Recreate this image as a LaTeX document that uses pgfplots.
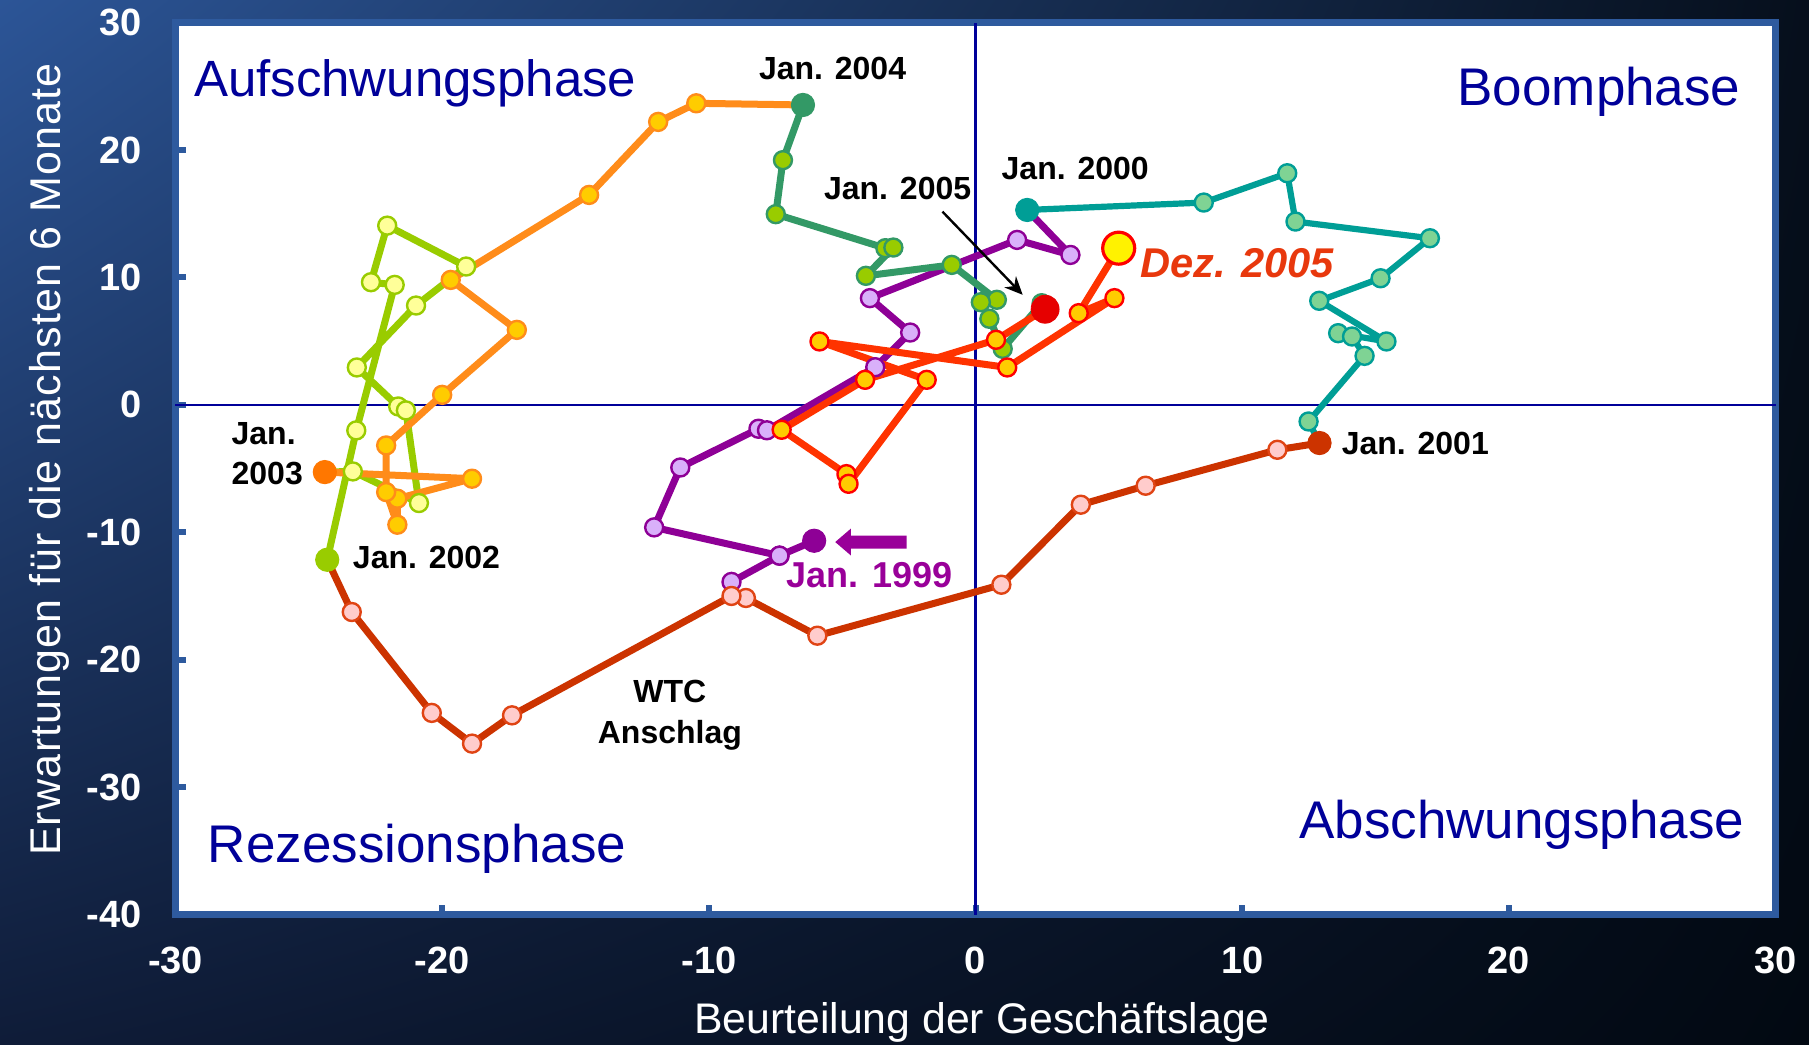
\documentclass[border=0pt]{standalone}
\usepackage{fontspec}
\setmainfont{Liberation Sans}
\usepackage{pgfplots}
\pgfplotsset{compat=1.18}
\usetikzlibrary{arrows.meta,shadings}

\definecolor{frameblue}{HTML}{2E5A9E}
\definecolor{quadblue}{HTML}{000099}
\definecolor{bgtl}{HTML}{2C5597}
\definecolor{bgtr}{HTML}{060F1C}
\definecolor{bgbl}{HTML}{0F1C38}
\definecolor{bgbr}{HTML}{020912}
\definecolor{c99}{HTML}{8E0096}
\definecolor{c99m}{HTML}{D9B0FA}
\definecolor{c00}{HTML}{009E96}
\definecolor{c00m}{HTML}{7FD394}
\definecolor{c01}{HTML}{CC3300}
\definecolor{c01m}{HTML}{FFCCCC}
\definecolor{c01o}{HTML}{E04414}
\definecolor{c02}{HTML}{99CC00}
\definecolor{c02m}{HTML}{FFFF99}
\definecolor{c03}{HTML}{FF8C1A}
\definecolor{c03m}{HTML}{FFCC00}
\definecolor{c03j}{HTML}{FF7700}
\definecolor{c04}{HTML}{339966}
\definecolor{c04m}{HTML}{99CC00}
\definecolor{c05}{HTML}{FF3300}
\definecolor{c05m}{HTML}{FFCC00}
\definecolor{c05o}{HTML}{FF0000}
\definecolor{janred}{HTML}{E60000}
\definecolor{dezred}{HTML}{E8380D}
\definecolor{janpurple}{HTML}{990099}

\pgfplotsset{
  ser/.style n args={3}{color=#1, line width=3.5pt, line join=round, mark=*, mark size=4.5pt,
    mark options={fill=#2, draw=#3, line width=1.2pt, solid}},
  jan/.style={only marks, mark=*, mark size=5.8pt, color=#1, mark options={fill=#1, draw=#1, line width=0.5pt}},
}

\begin{document}
\begin{tikzpicture}
\useasboundingbox (-87.75pt,-65pt) rectangle (816.75pt,457.25pt);
\shade[upper left=bgtl, upper right=bgtr, lower left=bgbl, lower right=bgbr]
  (-87.75pt,-65pt) rectangle (816.75pt,457.25pt);
\begin{axis}[
  at={(0,0)}, anchor=south west,
  width=800pt, height=446pt, scale only axis,
  xmin=-30, xmax=30, ymin=-40, ymax=30,
  axis background/.style={fill=white},
  axis line style={draw=frameblue, line width=3.5pt},
  xtick={-30,-20,-10,0,10,20,30}, ytick={-40,-30,-20,-10,0,10,20,30},
  xticklabels={-30,-20,-10,0,10,20,30},
  yticklabels={-40,-30,-20,-10,0,10,20,30},
  tick pos=left, tick align=inside,
  major tick length=5pt,
  every tick/.style={draw=frameblue, line width=3pt},
  ticklabel style={font=\bfseries\fontsize{19pt}{19pt}\selectfont, text=white, inner sep=0pt},
  xticklabel style={anchor=center, yshift=-23pt},
  yticklabel style={anchor=east, xshift=-16.75pt},
  clip=false,
]
\draw[quadblue, line width=1.1pt] (axis cs:0,-40) -- (axis cs:0,30);
\draw[quadblue, line width=1.1pt] (axis cs:-30,0) -- (axis cs:30,0);

% 1999
\addplot[ser={c99}{c99m}{c99}, mark indices={2,3,4,5,6,7,8,9,10,11,12,13}] coordinates {
(-6.05,-10.67) (-7.35,-11.84) (-9.15,-13.90) (-7.35,-11.84) (-12.05,-9.62) (-11.07,-4.92)
(-8.14,-1.88) (-7.82,-2.00) (-3.76,2.95) (-2.45,5.67) (-3.96,8.37) (1.56,12.94) (3.56,11.76)
(1.94,15.29)};
\addplot[jan=c99] coordinates {(-6.05,-10.67)};

% 2000
\addplot[ser={c00}{c00m}{c00}, line width=3.1pt, mark indices={2,3,4,5,6,7,8,9,10,11,12}] coordinates {
(1.94,15.29) (8.56,15.87) (11.69,18.17) (12.00,14.38) (17.04,13.07) (15.19,9.93)
(12.89,8.16) (15.41,4.97) (13.60,5.62) (14.12,5.36) (14.59,3.84) (12.49,-1.31)
(12.90,-3.00)};
\addplot[jan=c00] coordinates {(1.94,15.29)};

% 2001
\addplot[ser={c01}{c01m}{c01o}, mark indices={2,3,4,5,6,7,8,9,10,11,12}] coordinates {
(12.90,-3.00) (11.32,-3.53) (6.38,-6.35) (3.95,-7.84) (0.97,-14.12) (-5.93,-18.12)
(-8.61,-15.16) (-9.15,-15.00) (-17.38,-24.37) (-18.88,-26.59) (-20.39,-24.18) (-23.39,-16.26)
(-24.31,-12.16)};
\addplot[jan=c01] coordinates {(12.90,-3.00)};

% 2002
\addplot[ser={c02}{c02m}{c02}, mark indices={2,3,4,5,6,7,8,9,10,11,12}] coordinates {
(-24.31,-12.16) (-23.22,-2.01) (-21.78,9.41) (-22.67,9.62) (-22.06,14.06) (-19.10,10.85)
(-20.98,7.79) (-23.20,2.93) (-21.65,-0.13) (-21.36,-0.44) (-20.87,-7.71) (-23.35,-5.23)
(-24.40,-5.28)};
\addplot[jan=c02] coordinates {(-24.31,-12.16)};

% 2003
\addplot[ser={c03}{c03m}{c03}, mark indices={2,3,4,5,6,7,8,9,10,11,12}] coordinates {
(-24.40,-5.28) (-18.88,-5.80) (-21.68,-7.37) (-21.68,-9.41) (-22.10,-6.85) (-22.10,-3.19)
(-20.00,0.78) (-17.20,5.88) (-19.68,9.80) (-14.49,16.47) (-11.90,22.20) (-10.47,23.66)
(-6.47,23.53)};
\addplot[jan=c03j] coordinates {(-24.40,-5.28)};

% 2004
\addplot[ser={c04}{c04m}{c04}, mark indices={2,3,4,5,6,7,8,9,10,11,12}] coordinates {
(-6.47,23.53) (-7.22,19.20) (-7.49,14.96) (-3.38,12.29) (-3.08,12.34) (-4.11,10.12)
(-0.89,10.98) (0.80,8.24) (0.20,8.05) (0.52,6.75) (1.02,4.39) (2.48,7.97)
(2.61,7.50)};
\addplot[jan=c04] coordinates {(-6.47,23.53)};

% 2005
\addplot[ser={c05}{c05m}{c05o}, mark indices={2,3,4,5,6,7,8,9,10,11}] coordinates {
(2.61,7.50) (0.77,5.10) (-4.14,1.96) (-7.27,-1.96) (-4.84,-5.44) (-4.76,-6.20)
(-1.83,1.96) (-5.85,4.97) (1.19,2.93) (5.21,8.37) (3.87,7.19) (5.37,12.29)};
\addplot[only marks, mark=*, mark size=7pt, mark options={fill=janred, draw=janred}] coordinates {(2.61,7.50)};
\addplot[only marks, mark=*, mark size=8pt, mark options={fill=yellow, draw=c05o, line width=1.6pt}] coordinates {(5.37,12.29)};

% quadrant labels
\begin{scope}[every node/.style={inner sep=0pt, text=quadblue, font=\fontsize{26.5pt}{30pt}\selectfont}]
\node[anchor=base west, font=\fontsize{25.5pt}{30pt}\selectfont] at (axis cs:-29.32,24.2) {Aufschwungsphase};
\node[anchor=base east] at (axis cs:28.7,23.5) {Boomphase};
\node[anchor=base east] at (axis cs:28.84,-34.0) {Abschwungsphase};
\node[anchor=base west] at (axis cs:-28.8,-35.9) {Rezessionsphase};
\end{scope}

% annotations
\begin{scope}[every node/.style={inner sep=0pt, text=black, font=\bfseries\fontsize{16pt}{19pt}\selectfont}]
\node[anchor=base] at (axis cs:-5.36,25.54) {Jan. 2004};
\node[anchor=base] at (axis cs:-2.92,16.08) {Jan. 2005};
\node[anchor=base] at (axis cs:3.74,17.7) {Jan. 2000};
\node[anchor=base west] at (axis cs:13.72,-3.92) {Jan. 2001};
\node[anchor=base west] at (axis cs:-23.36,-12.81) {Jan. 2002};
\node[anchor=base west] at (axis cs:-27.91,-3.14) {Jan.};
\node[anchor=base west] at (axis cs:-27.91,-6.27) {2003};
\node[anchor=base] at (axis cs:-11.46,-23.35) {WTC};
\node[anchor=base] at (axis cs:-11.46,-26.55) {Anschlag};
\end{scope}
\node[anchor=base, inner sep=0pt, text=janpurple, font=\bfseries\fontsize{18pt}{20pt}\selectfont] at (axis cs:-3.97,-14.3) {Jan. 1999};
\node[anchor=base, inner sep=0pt, text=dezred, font=\bfseries\itshape\fontsize{20.8pt}{24pt}\selectfont] at (axis cs:9.81,10.0) {Dez. 2005};

\draw[-{Stealth[length=9pt,width=8pt]}, line width=1.2pt, black] (axis cs:-1.24,15.16) -- (axis cs:1.77,8.63);
\fill[janpurple] (axis cs:-2.58,-10.26) -- (axis cs:-4.67,-10.26) -- (axis cs:-4.67,-9.71) -- (axis cs:-5.26,-10.77)
  -- (axis cs:-4.67,-11.83) -- (axis cs:-4.67,-11.28) -- (axis cs:-2.58,-11.28) -- cycle;

% axis labels
\node[anchor=base, inner sep=0pt, text=white, font=\fontsize{21.4pt}{25pt}\selectfont] at (axis cs:0.24,-49.34) {Beurteilung der Geschäftslage};
\node[rotate=90, anchor=base, inner sep=0pt, text=white, font=\fontsize{21.5pt}{25pt}\selectfont] at (axis cs:-34.31,-4.29) {\addfontfeatures{LetterSpace=3}Erwartungen für die nächsten 6 Monate};
\end{axis}
\end{tikzpicture}
\end{document}
